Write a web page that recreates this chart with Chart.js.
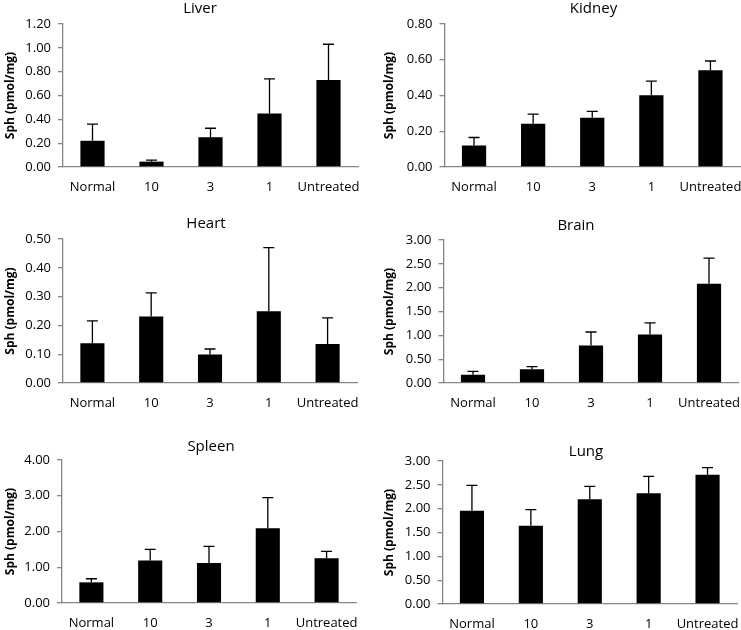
<!DOCTYPE html>
<html>
<head>
<meta charset="utf-8">
<script src="https://cdn.jsdelivr.net/npm/chart.js@4"></script>
<style>
  html, body { margin: 0; padding: 0; background: #fff; overflow: hidden; }
  body { width: 741px; height: 630px; position: relative; }
  canvas { position: absolute; }
</style>
</head>
<body>
<canvas id="c0"></canvas>
<canvas id="c1"></canvas>
<canvas id="c2"></canvas>
<canvas id="c3"></canvas>
<canvas id="c4"></canvas>
<canvas id="c5"></canvas>
<script>
const categories = ["Normal", "10", "3", "1", "Untreated"];
const organs = ["Liver", "Kidney", "Heart", "Brain", "Spleen", "Lung"];
const yLabel = "Sph (pmol/mg)";

// medias y desviación (solo la barra superior)
const liverMean  = [0.22, 0.045, 0.25, 0.45, 0.73];
const liverErr   = [0.14, 0.013, 0.075, 0.29, 0.30];
const kidneyMean = [0.12, 0.242, 0.275, 0.402, 0.541];
const kidneyErr  = [0.045, 0.054, 0.036, 0.078, 0.052];
const heartMean  = [0.138, 0.231, 0.099, 0.249, 0.135];
const heartErr   = [0.078, 0.082, 0.019, 0.221, 0.091];
const brainMean  = [0.175, 0.287, 0.785, 1.016, 2.08];
const brainErr   = [0.07, 0.056, 0.285, 0.244, 0.54];
const spleenMean = [0.578, 1.19, 1.12, 2.09, 1.25];
const spleenErr  = [0.10, 0.31, 0.465, 0.86, 0.195];
const lungMean   = [1.958, 1.643, 2.196, 2.322, 2.713];
const lungErr    = [0.532, 0.336, 0.273, 0.356, 0.147];

const yMax  = [1.2, 0.8, 0.5, 3, 4, 3];
const yStep = [0.2, 0.2, 0.1, 0.5, 1, 0.5];

const means = [liverMean, kidneyMean, heartMean, brainMean, spleenMean, lungMean];
const errs  = [liverErr, kidneyErr, heartErr, brainErr, spleenErr, lungErr];

// posición de cada panel en la página
const panels = [
  { left: 0,   top: 0,   w: 400, h: 197, axisW: 63,   spacer: 42, gap: 6, labelX: 11 },
  { left: 370, top: 0,   w: 447, h: 197, axisW: 74.5, spacer: 77, gap: 6, labelX: 20 },
  { left: 0,   top: 215, w: 412, h: 198, axisW: 63,   spacer: 55, gap: 6, labelX: 11 },
  { left: 370, top: 217, w: 412, h: 196, axisW: 73.5, spacer: 43.5, gap: 5, labelX: 20 },
  { left: 0,   top: 438, w: 422, h: 195, axisW: 62,   spacer: 66, gap: 4, labelX: 11 },
  { left: 370, top: 443, w: 432, h: 191, axisW: 72.5, spacer: 65, gap: 0, labelX: 20 }
];

const axisGrey = "#868686";
const font = "'Open Sans', 'DejaVu Sans', sans-serif";

// barras de error dibujadas sobre cada barra
const errorBars = {
  id: "errorBars",
  afterDatasetsDraw(chart) {
    const ds = chart.data.datasets[0];
    const meta = chart.getDatasetMeta(0);
    const yScale = chart.scales.y;
    const ctx = chart.ctx;
    ctx.save();
    ctx.strokeStyle = "#000";
    ctx.lineWidth = 1.3;
    meta.data.forEach((bar, i) => {
      const top = yScale.getPixelForValue(ds.data[i] + ds.errors[i]);
      ctx.beginPath();
      ctx.moveTo(bar.x, bar.y);
      ctx.lineTo(bar.x, top);
      ctx.moveTo(bar.x - 5.5, top);
      ctx.lineTo(bar.x + 5.5, top);
      ctx.stroke();
    });
    ctx.restore();
  }
};

organs.forEach((organ, k) => {
  const p = panels[k];
  const canvas = document.getElementById("c" + k);
  canvas.width = p.w;
  canvas.height = p.h;
  canvas.style.left = p.left + "px";
  canvas.style.top = p.top + "px";
  canvas.style.width = p.w + "px";
  canvas.style.height = p.h + "px";

  new Chart(canvas.getContext("2d"), {
    type: "bar",
    data: {
      labels: categories,
      datasets: [{
        data: means[k],
        errors: errs[k],
        backgroundColor: "#000",
        borderWidth: 0,
        barPercentage: 0.41,
        categoryPercentage: 1
      }]
    },
    options: {
      responsive: false,
      animation: false,
      devicePixelRatio: 1,
      layout: { padding: 0 },
      plugins: {
        legend: { display: false },
        tooltip: { enabled: false },
        title: {
          display: true,
          text: organ,
          color: "#000",
          font: { family: font, size: 15, weight: "normal" },
          padding: { top: 0, bottom: p.gap }
        }
      },
      scales: {
        x: {
          grid: { display: false, drawTicks: false },
          border: { color: axisGrey, width: 1.3 },
          ticks: {
            color: "#000",
            padding: 12,
            autoSkip: false,
            maxRotation: 0,
            font: { family: font, size: 13 }
          },
          afterFit(s) { s.height = 30; }
        },
        y: {
          min: 0,
          max: yMax[k],
          grid: { drawOnChartArea: false, drawTicks: true, tickLength: 5, color: axisGrey, lineWidth: 1.3 },
          border: { color: axisGrey, width: 1.3 },
          ticks: {
            stepSize: yStep[k],
            color: "#000",
            padding: 7,
            font: { family: font, size: 13 },
            callback: v => Number(v).toFixed(2)
          },
          title: {
            display: true,
            text: yLabel,
            color: "#000",
            font: { family: font, size: 12, weight: "bold" },
            padding: { top: p.labelX - 7.2, bottom: 0 }
          },
          afterFit(s) { s.width = p.axisW; }
        },
        y2: {
          type: "linear",
          position: "right",
          display: true,
          grid: { display: false, drawTicks: false },
          border: { display: false },
          ticks: { display: false },
          afterFit(s) { s.width = p.spacer; }
        }
      }
    },
    plugins: [errorBars]
  });
});
</script>
</body>
</html>
